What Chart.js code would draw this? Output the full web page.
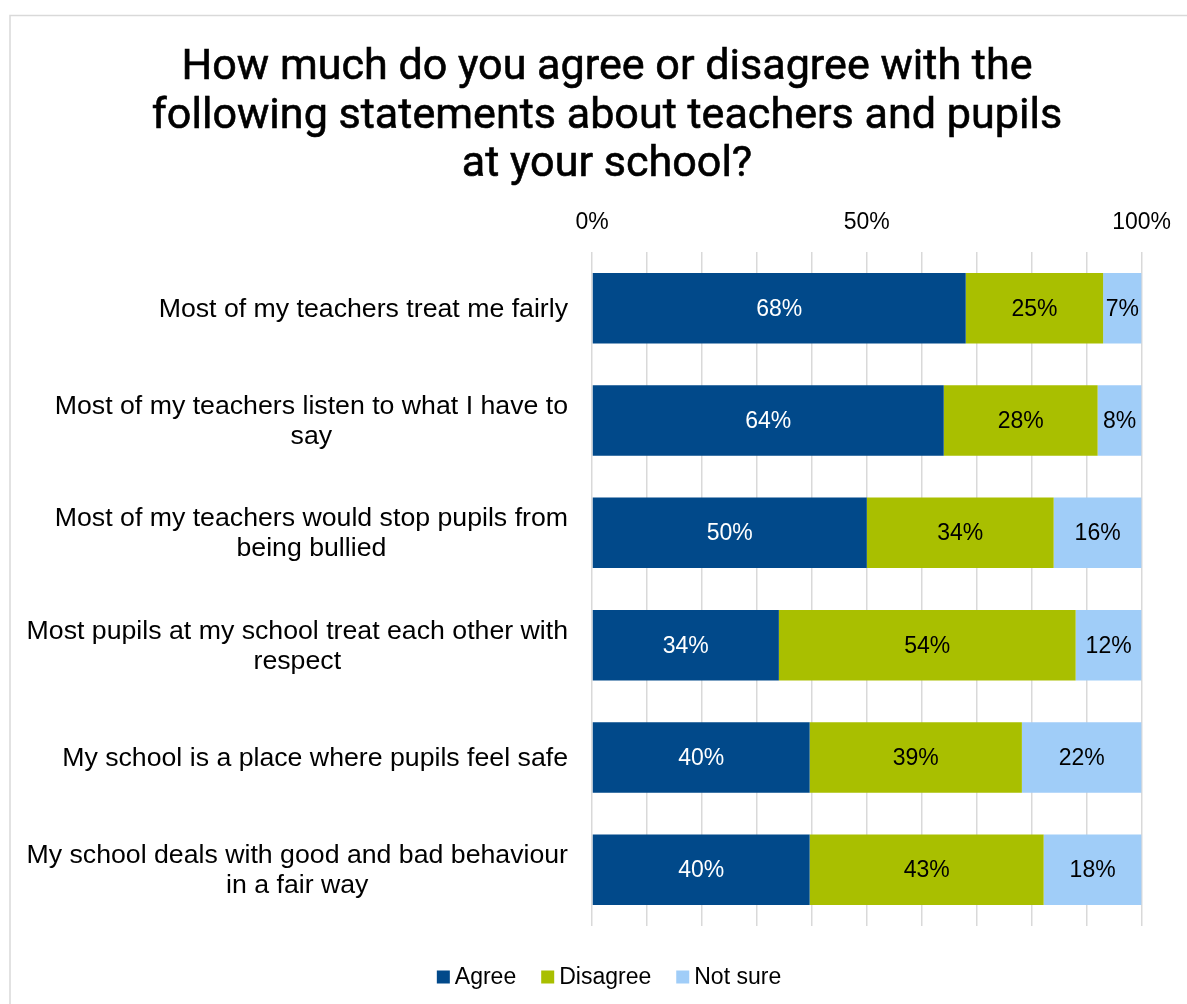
<!DOCTYPE html>
<html>
<head>
<meta charset="utf-8">
<script src="https://cdn.jsdelivr.net/npm/chart.js@4.4.1/dist/chart.umd.min.js"></script>
<style>
  html, body { margin: 0; padding: 0; background: #fff; }
  #wrap { width: 1187px; height: 1004px; }
</style>
</head>
<body>
<div id="wrap"><canvas id="barchart" width="1187" height="1004"></canvas></div>
<script>
// survey answers, percent of pupils per statement
const titleLines = [
    'How much do you agree or disagree with the',
    'following statements about teachers and pupils',
    'at your school?'
];
const statements = [
    ['Most of my teachers treat me fairly'],
    ['Most of my teachers listen to what I have to', 'say'],
    ['Most of my teachers would stop pupils from', 'being bullied'],
    ['Most pupils at my school treat each other with', 'respect'],
    ['My school is a place where pupils feel safe'],
    ['My school deals with good and bad behaviour', 'in a fair way']
];
const seriesNames = ['Agree', 'Disagree', 'Not sure'];
const agree = [68, 64, 50, 34, 40, 40];
const disagree = [25, 28, 34, 54, 39, 43];
const notSure = [7, 8, 16, 12, 22, 18];
const tickLabels = ['0%', '50%', '100%'];

const colours = ['#01498A', '#A9BF00', '#A0CDF8'];
const labelColours = ['#ffffff', '#000000', '#000000'];
const SANS = '"Liberation Sans", Arial, sans-serif';

// 100% stacked: each row is scaled to its own total
const rowTotals = agree.map((v, i) => v + disagree[i] + notSure[i]);
const share = arr => arr.map((v, i) => v / rowTotals[i] * 100);

const sheetPlugin = {
    id: 'sheet',
    beforeDraw(chart) {
        const ctx = chart.ctx;
        ctx.save();
        ctx.fillStyle = '#fff';
        ctx.fillRect(0, 0, chart.width, chart.height);
        ctx.strokeStyle = '#d9d9d9';
        ctx.lineWidth = 1.5;
        ctx.beginPath();
        ctx.moveTo(10, chart.height);
        ctx.lineTo(10, 15.5);
        ctx.lineTo(chart.width, 15.5);
        ctx.stroke();
        ctx.restore();
    },
    afterDatasetsDraw(chart) {
        // value labels in the middle of each segment
        const ctx = chart.ctx;
        ctx.save();
        ctx.font = '23px ' + SANS;
        ctx.textAlign = 'center';
        ctx.textBaseline = 'middle';
        chart.data.datasets.forEach((ds, di) => {
            chart.getDatasetMeta(di).data.forEach((bar, i) => {
                const right = Math.min(bar.x, chart.chartArea.right);
                ctx.fillStyle = labelColours[di];
                ctx.fillText(ds.raw[i] + '%', (bar.base + right) / 2, bar.y + 1);
            });
        });
        ctx.restore();
    },
    afterDraw(chart) {
        const ctx = chart.ctx;
        ctx.save();

        // title
        ctx.fillStyle = '#000';
        ctx.textAlign = 'center';
        ctx.textBaseline = 'alphabetic';
        let size = 40;
        ctx.font = size + 'px Roboto';
        size = size * 852 / ctx.measureText(titleLines[0]).width;
        ctx.font = size.toFixed(1) + 'px Roboto';
        titleLines.forEach((t, i) => {
            // slight stroke gives a medium weight
            ctx.lineWidth = 0.6;
            ctx.strokeStyle = '#000';
            ctx.strokeText(t, 607, 79 + i * 48.5);
            ctx.fillText(t, 607, 79 + i * 48.5);
        });

        // category labels, right edge fixed, lines centred within block
        const yScale = chart.scales.y;
        ctx.font = '26.7px ' + SANS;
        ctx.textBaseline = 'middle';
        statements.forEach((lines, i) => {
            const yc = yScale.getPixelForTick(i);
            const w = Math.max(...lines.map(l => ctx.measureText(l).width));
            const xc = 568 - w / 2;
            const lh = 30;
            lines.forEach((l, k) => {
                ctx.fillText(l, xc, yc + (k - (lines.length - 1) / 2) * lh + 1);
            });
        });

        // legend
        ctx.font = '23px ' + SANS;
        ctx.textAlign = 'left';
        const box = 13, gapText = 5, gapItem = 25;
        const widths = seriesNames.map(n => box + gapText + ctx.measureText(n).width);
        const total = widths.reduce((a, b) => a + b, 0) + gapItem * (widths.length - 1);
        let x = 609 - total / 2;
        const ly = 977;
        seriesNames.forEach((n, i) => {
            ctx.fillStyle = colours[i];
            ctx.fillRect(x, ly - box / 2, box, box);
            ctx.fillStyle = '#000';
            ctx.fillText(n, x + box + gapText, ly + 1);
            x += widths[i] + gapItem;
        });
        ctx.restore();
    }
};

const ctx = document.getElementById('barchart').getContext('2d');
new Chart(ctx, {
    type: 'bar',
    data: {
        labels: statements,
        datasets: [
            { label: seriesNames[0], data: share(agree), raw: agree, backgroundColor: colours[0] },
            { label: seriesNames[1], data: share(disagree), raw: disagree, backgroundColor: colours[1] },
            { label: seriesNames[2], data: share(notSure), raw: notSure, backgroundColor: colours[2] }
        ]
    },
    options: {
        indexAxis: 'y',
        responsive: false,
        animation: false,
        layout: { padding: { left: 592, right: 42, top: 202, bottom: 78 } },
        datasets: { bar: { barPercentage: 0.628, categoryPercentage: 1, borderWidth: 0 } },
        plugins: { legend: { display: false }, title: { display: false }, tooltip: { enabled: false } },
        scales: {
            x: {
                position: 'top',
                stacked: true,
                min: 0,
                max: 100,
                afterFit: s => { s.height = 50; },
                border: { display: false },
                grid: { color: '#d9d9d9', lineWidth: 1.5, drawTicks: false },
                ticks: {
                    stepSize: 10,
                    padding: 16,
                    color: '#000',
                    font: { family: SANS, size: 23 },
                    maxRotation: 0,
                    autoSkip: false,
                    callback: v => (v % 50 === 0 ? tickLabels[v / 50] : '')
                }
            },
            y: {
                stacked: true,
                display: false
            }
        }
    },
    plugins: [sheetPlugin]
});
</script>
</body>
</html>
